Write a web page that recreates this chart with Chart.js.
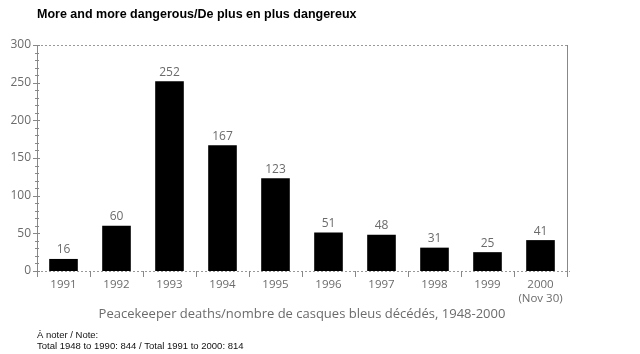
<!DOCTYPE html>
<html>
<head>
<meta charset="utf-8">
<script src="https://cdn.jsdelivr.net/npm/chart.js@4.4.0/dist/chart.umd.min.js"></script>
<style>
  html, body { margin: 0; padding: 0; background: #fff; }
  #wrap { width: 640px; height: 354px; position: relative; }
</style>
</head>
<body>
<div id="wrap"><canvas id="grafico" width="640" height="354"></canvas></div>
<script>
// dados
const anos = ['1991', '1992', '1993', '1994', '1995', '1996', '1997', '1998', '1999', ['2000', '(Nov 30)']];
const mortes = [16, 60, 252, 167, 123, 51, 48, 31, 25, 41];
const yTicks = [0, 50, 100, 150, 200, 250, 300];

const titulo = 'More and more dangerous/De plus en plus dangereux';
const tituloX = 'Peacekeeper deaths/nombre de casques bleus décédés, 1948-2000';
const notas = ['À noter / Note:', 'Total 1948 to 1990: 844 / Total 1991 to 2000: 814'];

const cinza = '#6b6b6b';

// moldura, ticks menores, rotulos e textos
const extras = {
    id: 'extras',
    beforeDatasetsDraw(chart) {
        const { ctx, chartArea: a, scales: { x, y } } = chart;
        ctx.save();
        ctx.strokeStyle = '#999';
        ctx.lineWidth = 1;
        // linhas pontilhadas topo e base
        ctx.setLineDash([2, 2]);
        ctx.beginPath();
        ctx.moveTo(a.left, Math.round(y.getPixelForValue(300)) + 0.5);
        ctx.lineTo(a.right, Math.round(y.getPixelForValue(300)) + 0.5);
        ctx.moveTo(a.left, Math.round(y.getPixelForValue(0)) + 0.5);
        ctx.lineTo(a.right + 3, Math.round(y.getPixelForValue(0)) + 0.5);
        ctx.stroke();
        ctx.setLineDash([]);
        // eixo esquerdo e borda direita
        ctx.strokeStyle = '#888';
        ctx.beginPath();
        ctx.moveTo(a.left + 0.5, a.top);
        ctx.lineTo(a.left + 0.5, a.bottom + 6);
        ctx.moveTo(a.right + 0.5, a.top);
        ctx.lineTo(a.right + 0.5, a.bottom + 6);
        ctx.stroke();
        // ticks do eixo y
        ctx.beginPath();
        for (let v = 0; v <= 300; v += 10) {
            const py = Math.round(y.getPixelForValue(v)) + 0.5;
            const major = v % 50 === 0;
            ctx.moveTo(a.left - (major ? 4 : 2), py);
            ctx.lineTo(a.left + (major ? 3 : 2), py);
        }
        // ticks do eixo x entre categorias
        for (let i = 1; i < anos.length; i++) {
            const px = Math.round((x.getPixelForValue(i - 1) + x.getPixelForValue(i)) / 2) + 0.5;
            ctx.moveTo(px, a.bottom);
            ctx.lineTo(px, a.bottom + 6);
        }
        ctx.stroke();
        ctx.restore();
    },
    afterDraw(chart) {
        const { ctx } = chart;
        ctx.save();
        // valores acima das barras
        const meta = chart.getDatasetMeta(0);
        ctx.fillStyle = cinza;
        ctx.font = '12px "Open Sans", sans-serif';
        ctx.textAlign = 'center';
        ctx.textBaseline = 'bottom';
        meta.data.forEach((bar, i) => {
            ctx.fillText(String(mortes[i]), bar.x, bar.y - 3);
        });
        // titulo
        ctx.fillStyle = '#000';
        ctx.textAlign = 'left';
        ctx.textBaseline = 'middle';
        ctx.font = 'bold 12.5px "Liberation Sans", Arial, sans-serif';
        ctx.fillText(titulo, 37, 15);
        // titulo do eixo x
        ctx.fillStyle = cinza;
        ctx.textAlign = 'center';
        ctx.font = '13px "Open Sans", sans-serif';
        ctx.fillText(tituloX, 302, 314);
        // notas
        ctx.fillStyle = '#111';
        ctx.textAlign = 'left';
        ctx.font = '9.5px "Liberation Sans", Arial, sans-serif';
        ctx.fillText(notas[0], 37, 335);
        ctx.fillText(notas[1], 37, 346);
        ctx.restore();
    }
};

new Chart(document.getElementById('grafico').getContext('2d'), {
    type: 'bar',
    data: {
        labels: anos,
        datasets: [{
            label: 'Deaths',
            data: mortes,
            backgroundColor: '#000',
            borderWidth: 0,
            barPercentage: 0.54,
            categoryPercentage: 1
        }]
    },
    options: {
        responsive: false,
        animation: false,
        layout: { padding: { top: 45, right: 73, left: 0, bottom: 0 } },
        plugins: {
            legend: { display: false },
            tooltip: { enabled: false }
        },
        scales: {
            x: {
                offset: true,
                grid: { display: false, drawTicks: false },
                border: { display: false },
                ticks: {
                    color: cinza,
                    font: { family: '"Open Sans", sans-serif', size: 11.5 },
                    padding: 7,
                    maxRotation: 0,
                    autoSkip: false
                },
                afterFit(s) { s.height = 83; }
            },
            y: {
                min: 0,
                max: 300,
                afterBuildTicks(s) { s.ticks = yTicks.map(v => ({ value: v })); },
                grid: { display: false, drawTicks: false },
                border: { display: false },
                ticks: {
                    color: cinza,
                    font: { family: '"Open Sans", sans-serif', size: 12 },
                    padding: 6
                },
                afterFit(s) { s.width = 37; }
            }
        }
    },
    plugins: [extras]
});
</script>
</body>
</html>
